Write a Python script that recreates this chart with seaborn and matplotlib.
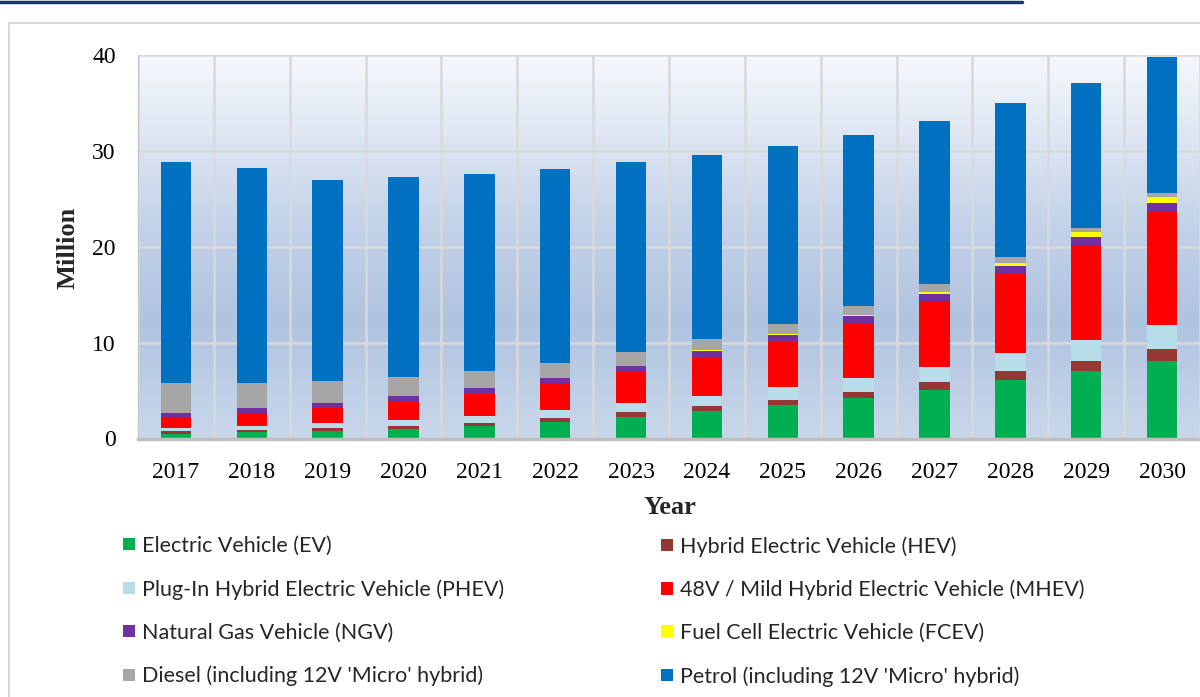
import matplotlib
matplotlib.use("Agg")
import matplotlib.pyplot as plt
import numpy as np
import pandas as pd
import seaborn as sns
from matplotlib.colors import LinearSegmentedColormap
from matplotlib.patches import Patch, Rectangle
from matplotlib.lines import Line2D

# data (million vehicles)
years = ["2017", "2018", "2019", "2020", "2021", "2022", "2023",
         "2024", "2025", "2026", "2027", "2028", "2029", "2030"]
ev = [0.5, 0.65, 0.8, 1.0, 1.33, 1.75, 2.28, 2.87, 3.46, 4.2, 5.07, 6.09, 7.0, 8.08]
hev = [0.25, 0.25, 0.25, 0.3, 0.32, 0.38, 0.45, 0.52, 0.6, 0.66, 0.78, 0.94, 1.08, 1.26]
phev = [0.35, 0.45, 0.55, 0.6, 0.73, 0.81, 0.94, 1.05, 1.26, 1.44, 1.64, 1.86, 2.18, 2.45]
mhev = [1.1, 1.3, 1.6, 1.95, 2.27, 2.8, 3.29, 3.99, 4.79, 5.74, 6.82, 8.22, 9.9, 11.86]
ngv = [0.45, 0.5, 0.5, 0.55, 0.6, 0.56, 0.63, 0.7, 0.7, 0.76, 0.81, 0.88, 0.87, 0.95]
fcev = [0, 0, 0, 0, 0, 0, 0.02, 0.1, 0.11, 0.1, 0.21, 0.28, 0.46, 0.63]
diesel = [3.1, 2.65, 2.25, 2.0, 1.75, 1.57, 1.44, 1.16, 1.02, 0.93, 0.8, 0.63, 0.45, 0.42]
petrol = [23.05, 22.4, 21.05, 20.9, 20.6, 20.23, 19.77, 19.2, 18.56, 17.87, 16.97, 16.1, 15.16, 14.15]

labels = ["Electric Vehicle (EV)", "Hybrid Electric Vehicle (HEV)",
          "Plug-In Hybrid Electric Vehicle (PHEV)", "48V / Mild Hybrid Electric Vehicle (MHEV)",
          "Natural Gas Vehicle (NGV)", "Fuel Cell Electric Vehicle (FCEV)",
          "Diesel (including 12V 'Micro' hybrid)", "Petrol (including 12V 'Micro' hybrid)"]
series = [ev, hev, phev, mhev, ngv, fcev, diesel, petrol]
colors = ["#00b050", "#953735", "#b7dee8", "#ff0000", "#7030a0", "#ffff00", "#a6a6a6", "#0070c0"]

df = pd.DataFrame({"year": years})
for lab, vals in zip(labels, series):
    df[lab] = vals

sns.set_style("white")
plt.rcParams["font.family"] = ["Liberation Serif", "DejaVu Serif"]

fig = plt.figure(figsize=(12, 6.97), dpi=100)
W, H = 1200, 697
ax = fig.add_axes([138 / W, (H - 438.5) / H, (W - 138) / W, (438.5 - 55) / H])

# gradient plot background
cmap = LinearSegmentedColormap.from_list(
    "bg", [(0.0, "#c9d7ea"), (0.3, "#b0c4e0"), (0.55, "#c3d2e8"), (1.0, "#f6f8fc")])
grad = np.linspace(0, 1, 256).reshape(-1, 1)
ax.imshow(grad, extent=[-0.5, 13.5, 0, 40], origin="lower", aspect="auto",
          cmap=cmap, zorder=0)

bottom = np.zeros(len(years))
for lab, col in zip(labels, colors):
    vals = df[lab].to_numpy()
    sns.barplot(x=df["year"], y=vals, bottom=bottom, color=col, saturation=1,
                width=0.4, errorbar=None, ax=ax, zorder=2, linewidth=0)
    bottom = bottom + vals

ax.set_xlim(-0.5, -0.5 + 14 * (W - 138) / (76.0 * 14))
ax.set_ylim(0, 40)
ax.set_yticks([0, 10, 20, 30, 40])
ax.set_xticks(np.arange(-0.5, 14, 1), minor=True)
ax.set_axisbelow(True)
ax.grid(axis="y", which="major", color="#d9d9d9", linewidth=1.8, zorder=1)
ax.grid(axis="x", which="minor", color="#d9d9d9", linewidth=1.8, zorder=1)
ax.grid(axis="x", which="major", visible=False)
ax.tick_params(axis="both", which="both", length=0, labelsize=17, colors="black")
ax.tick_params(axis="x", pad=17)
ax.tick_params(axis="y", pad=16)
ax.set_xlabel("")
ax.set_ylabel("")
for s in ["top", "right"]:
    ax.spines[s].set_visible(False)
ax.spines["left"].set_color("#c8c8c8")
ax.spines["left"].set_linewidth(1.0)
ax.spines["bottom"].set_color("#bfbfbf")
ax.spines["bottom"].set_linewidth(2.5)

fig.text(68 / W, 1 - 248 / H, "Million", rotation=90, ha="center", va="center",
         fontsize=19, fontweight="bold")
fig.text(670 / W, 1 - 508 / H, "Year", ha="center", va="center",
         fontsize=19, fontweight="bold")

# legend in two columns under the chart
handles = [Patch(facecolor=c, edgecolor="none") for c in colors]
leg_kw = dict(frameon=False, loc="upper left", bbox_transform=fig.transFigure,
              borderpad=0, borderaxespad=0, handlelength=0.57, handleheight=0.5,
              handletextpad=0.32, labelspacing=1.07,
              prop={"family": "Lato", "size": 15.5})
leg1 = fig.legend([handles[i] for i in (0, 2, 4, 6)], [labels[i] for i in (0, 2, 4, 6)],
                  bbox_to_anchor=(123 / W, 1 - 536 / H), **leg_kw)
leg2 = fig.legend([handles[i] for i in (1, 3, 5, 7)], [labels[i] for i in (1, 3, 5, 7)],
                  bbox_to_anchor=(661 / W, 1 - 536 / H), **leg_kw)

# outer chart frame and the cut-off caption rule at the top
fig.add_artist(Rectangle((9 / W, -0.05), 1.2, 1.05 - 23 / H, transform=fig.transFigure,
                         fill=False, edgecolor="#d9d9d9", linewidth=1.5))
fig.add_artist(Line2D([0, 1022 / W], [1 - 1.5 / H, 1 - 1.5 / H], transform=fig.transFigure,
                      color="#1f3864", linewidth=2.5))

fig.savefig("out.png", dpi=100)
